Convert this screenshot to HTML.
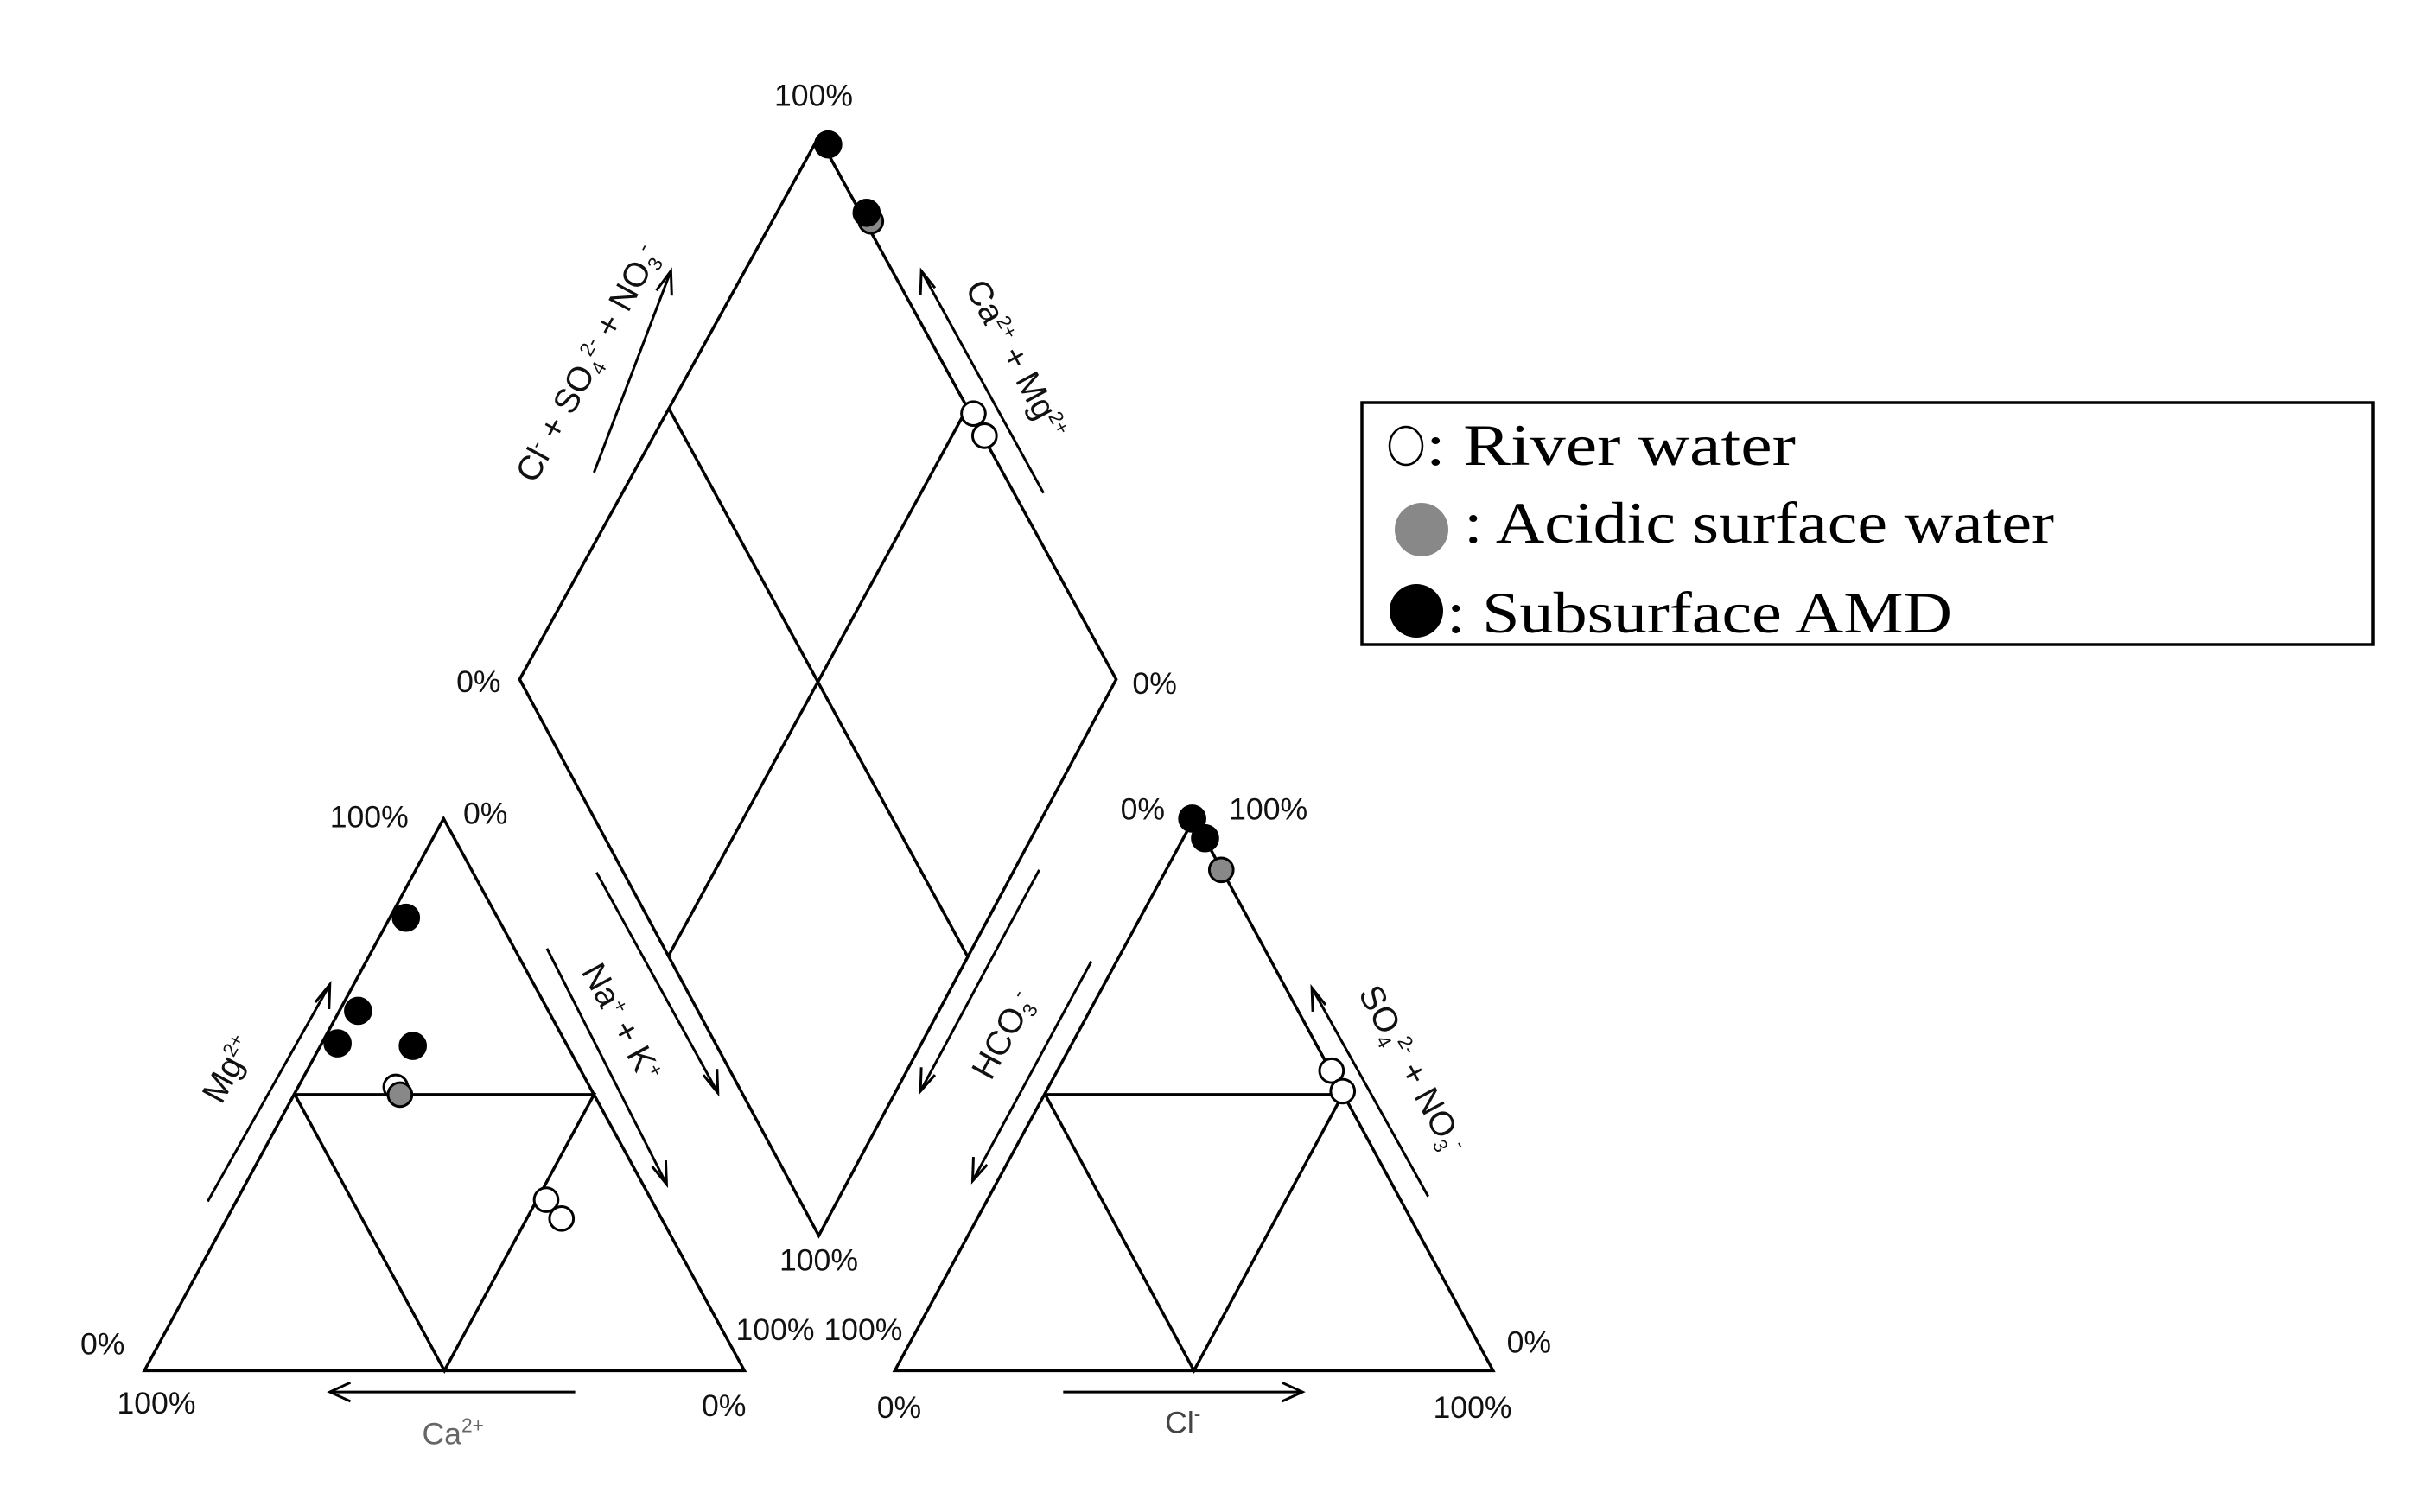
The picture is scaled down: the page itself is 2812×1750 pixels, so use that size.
<!DOCTYPE html>
<html><head><meta charset="utf-8"><style>
html,body{margin:0;padding:0;background:#fff;}
svg{display:block;}
.l{font-family:"Liberation Sans",sans-serif;font-size:36px;fill:#111;}
.b{font-size:40px;}
.s{font-size:23px;}
.lg{font-family:"Liberation Serif",serif;font-size:68px;fill:#000;}
</style></head><body>
<svg width="2812" height="1750" viewBox="0 0 2812 1750" xmlns="http://www.w3.org/2000/svg">
<g transform="scale(0.989)">
<g fill="none" stroke="#000" stroke-width="3.5">
<polygon points="958,160 1306,795 958,1446 608,795"/>
<line x1="782" y1="477" x2="1132" y2="1119"/>
<line x1="1132" y1="477" x2="782" y2="1119"/>
<polygon points="519,958 871,1604 169,1604"/>
<polyline points="345,1281 695,1281 520,1604 345,1281"/>
<polygon points="1397,958 1747,1604 1047,1604"/>
<polyline points="1223,1281 1571,1281 1397,1604 1223,1281"/>
</g>
<g fill="none" stroke="#000" stroke-width="3">
<line x1="695" y1="553" x2="785" y2="317"/><path d="M768,340 L785,317 L786,346"/>
<line x1="1221" y1="577" x2="1078" y2="317"/><path d="M1077,345 L1078,317 L1094,337"/>
<line x1="640" y1="1110" x2="780" y2="1386"/><path d="M779,1358 L780,1386 L763,1365"/>
<line x1="698" y1="1021" x2="840" y2="1279"/><path d="M839,1251 L840,1279 L823,1258"/>
<line x1="1216" y1="1018" x2="1077" y2="1277"/><path d="M1078,1249 L1077,1277 L1094,1258"/>
<line x1="1277" y1="1125" x2="1138" y2="1382"/><path d="M1139,1354 L1138,1382 L1155,1363"/>
<line x1="243" y1="1406" x2="386" y2="1152"/><path d="M369,1173 L386,1152 L385,1181"/>
<line x1="1671" y1="1400" x2="1535" y2="1156"/><path d="M1536,1184 L1535,1156 L1551,1176"/>
<line x1="673" y1="1629" x2="386" y2="1629"/><path d="M410,1618 L386,1629 L410,1640"/>
<line x1="1244" y1="1629" x2="1524" y2="1629"/><path d="M1500,1618 L1524,1629 L1500,1640"/>
</g>
<g stroke="#000" stroke-width="3">
<circle cx="969" cy="169" r="15" fill="#000"/>
<circle cx="1019" cy="259" r="14" fill="#888"/>
<circle cx="1014" cy="249" r="15" fill="#000"/>
<circle cx="1139" cy="484" r="14" fill="#fff"/>
<circle cx="1152" cy="510" r="14" fill="#fff"/>
<circle cx="475" cy="1074" r="15" fill="#000"/>
<circle cx="419" cy="1183" r="15" fill="#000"/>
<circle cx="395" cy="1221" r="15" fill="#000"/>
<circle cx="483" cy="1224" r="15" fill="#000"/>
<circle cx="463" cy="1272" r="14" fill="#fff"/>
<circle cx="468" cy="1281" r="14" fill="#888"/>
<circle cx="639" cy="1404" r="14" fill="#fff"/>
<circle cx="657" cy="1426" r="14" fill="#fff"/>
<circle cx="1395" cy="958" r="15" fill="#000"/>
<circle cx="1410" cy="981" r="15" fill="#000"/>
<circle cx="1429" cy="1018" r="14" fill="#888"/>
<circle cx="1558" cy="1253" r="14" fill="#fff"/>
<circle cx="1571" cy="1277" r="14" fill="#fff"/>
</g>
<g class="l" text-anchor="middle">
<text x="952" y="124">100%</text>
<text x="560" y="810">0%</text>
<text x="1351" y="812">0%</text>
<text x="958" y="1487">100%</text>
<text x="432" y="968">100%</text>
<text x="568" y="964">0%</text>
<text x="120" y="1585">0%</text>
<text x="907" y="1568">100%</text>
<text x="183" y="1654">100%</text>
<text x="847" y="1657">0%</text>
<text x="1337" y="959">0%</text>
<text x="1484" y="959">100%</text>
<text x="1010" y="1568">100%</text>
<text x="1789" y="1583">0%</text>
<text x="1052" y="1659">0%</text>
<text x="1723" y="1659">100%</text>
<text x="530" y="1690" fill="#666">Ca<tspan class="s" dy="-14">2+</tspan></text>
<text x="1384" y="1677" fill="#444">Cl<tspan class="s" dy="-14">-</tspan></text>
<text class="b" transform="translate(689,426) rotate(-61.5)" y="12">Cl<tspan class="s" dy="-14">-</tspan><tspan dy="14"> + SO</tspan><tspan class="s" dy="8">4</tspan><tspan class="s" dy="-22">2-</tspan><tspan dy="14"> + NO</tspan><tspan class="s" dy="8">3</tspan><tspan class="s" dy="-22">-</tspan></text>
<text class="b" transform="translate(1188,421) rotate(61.5)" y="12">Ca<tspan class="s" dy="-14">2+</tspan><tspan dy="14"> + Mg</tspan><tspan class="s" dy="-14">2+</tspan></text>
<text class="b" transform="translate(726,1197) rotate(61.5)" y="12">Na<tspan class="s" dy="-14">+</tspan><tspan dy="14"> + K</tspan><tspan class="s" dy="-14">+</tspan></text>
<text class="b" transform="translate(1175,1212) rotate(-61.5)" y="12">HCO<tspan class="s" dy="8">3</tspan><tspan class="s" dy="-22">-</tspan></text>
<text class="b" transform="translate(268,1252) rotate(-61.5)" y="12">Mg<tspan class="s" dy="-14">2+</tspan></text>
<text class="b" transform="translate(1651,1252) rotate(61.5)" y="12">SO<tspan class="s" dy="8">4</tspan><tspan class="s" dy="-22">2-</tspan><tspan dy="14"> + NO</tspan><tspan class="s" dy="8">3</tspan><tspan class="s" dy="-22">-</tspan></text>
</g>
</g>
<rect x="1576" y="466" width="1170" height="280" fill="none" stroke="#000" stroke-width="3.5"/>
<ellipse cx="1627" cy="516" rx="19" ry="22" fill="#fff" stroke="#000" stroke-width="2.5"/>
<ellipse cx="1645" cy="613" rx="31" ry="31" fill="#888"/>
<ellipse cx="1639" cy="707" rx="31" ry="31" fill="#000"/>
<text class="lg" x="1650" y="538" textLength="428" lengthAdjust="spacingAndGlyphs">: River water</text>
<text class="lg" x="1694" y="628" textLength="683" lengthAdjust="spacingAndGlyphs">: Acidic surface water</text>
<text class="lg" x="1674" y="732" textLength="585" lengthAdjust="spacingAndGlyphs">: Subsurface AMD</text>
</svg>
</body></html>
